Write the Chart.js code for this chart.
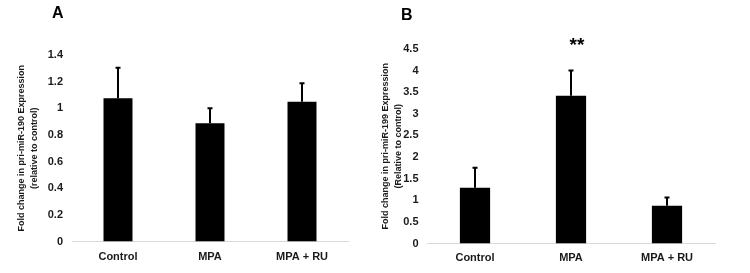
<!DOCTYPE html>
<html>
<head>
<meta charset="utf-8">
<script src="https://cdn.jsdelivr.net/npm/chart.js@4.4.1/dist/chart.umd.min.js"></script>
<style>
  html, body { margin: 0; padding: 0; background: #fff; }
  #page { position: relative; width: 750px; height: 273px; overflow: hidden; }
  .panel { position: absolute; top: 0; width: 375px; height: 273px; }
  .letter { position: absolute; font: bold 16px 'Liberation Sans', Arial, sans-serif; color: #000; line-height: 16px; }
</style>
</head>
<body>
<div id="page">
  <div class="panel" style="left:0"><canvas id="chartA"></canvas></div>
  <div class="panel" style="left:375px"><canvas id="chartB"></canvas></div>
  <div class="letter" style="left:52px; top:5px">A</div>
  <div class="letter" style="left:401px; top:7px">B</div>
</div>
<script>
// data
const categories = ['Control', 'MPA', 'MPA + RU'];

const mir190Means = [1.075, 0.887, 1.05];
const mir190Errors = [0.23, 0.113, 0.138];
const mir190TickMax = 1.4;
const mir190TickStep = 0.2;
const mir190Title = ['Fold change in pri-miR-190 Expression', '(relative to control)'];

const mir199Means = [1.29, 3.42, 0.872];
const mir199Errors = [0.464, 0.585, 0.195];
const mir199TickMax = 4.5;
const mir199TickStep = 0.5;
const mir199Title = ['Fold change in pri-miR-199 Expression', '(Relative to control)'];
const mir199Marks = ['', '**', ''];

const FONT = "'Liberation Sans', Arial, sans-serif";

// upward error bars + significance stars
const errorBarPlugin = {
    id: 'errorBars',
    afterDatasetsDraw(chart, args, opts) {
        const ctx = chart.ctx;
        const meta = chart.getDatasetMeta(0);
        const yScale = chart.scales.y;
        const means = chart.data.datasets[0].data;
        ctx.save();
        ctx.strokeStyle = '#000';
        ctx.lineWidth = 2;
        meta.data.forEach((bar, i) => {
            const yTop = yScale.getPixelForValue(means[i] + opts.errors[i]);
            ctx.beginPath();
            ctx.moveTo(bar.x, bar.y);
            ctx.lineTo(bar.x, yTop);
            ctx.moveTo(bar.x - 2.5, yTop);
            ctx.lineTo(bar.x + 2.5, yTop);
            ctx.stroke();
            if (opts.marks && opts.marks[i]) {
                ctx.fillStyle = '#000';
                ctx.font = 'bold 19px ' + FONT;
                ctx.textAlign = 'center';
                ctx.textBaseline = 'middle';
                ctx.fillText(opts.marks[i], bar.x + 6, yTop - 25);
            }
        });
        ctx.restore();
    }
};

function makeChart(id, values, errors, marks, tickMax, tickStep, title, box) {
    const ctx = document.getElementById(id).getContext('2d');
    return new Chart(ctx, {
        type: 'bar',
        data: {
            labels: categories,
            datasets: [{
                data: values,
                backgroundColor: '#000',
                borderWidth: 0,
                barPercentage: 0.315,
                categoryPercentage: 1
            }]
        },
        plugins: [errorBarPlugin],
        options: {
            responsive: true,
            maintainAspectRatio: false,
            animation: false,
            layout: { padding: { top: box.top, right: box.right, left: 0, bottom: 0 } },
            plugins: {
                legend: { display: false },
                tooltip: { enabled: false },
                errorBars: { errors: errors, marks: marks }
            },
            scales: {
                x: {
                    grid: { display: false, drawTicks: false },
                    border: { display: true, color: '#d9d9d9', width: 1 },
                    ticks: { color: '#1a1a1a', padding: box.xPad, font: { family: FONT, size: 11, weight: 'bold' } },
                    afterFit(scale) { scale.height = box.xHeight; }
                },
                y: {
                    min: 0,
                    max: tickMax,
                    grid: { display: false, drawTicks: false },
                    border: { display: false },
                    ticks: {
                        stepSize: tickStep,
                        color: '#1a1a1a',
                        padding: box.yPad,
                        font: { family: FONT, size: 11, weight: 'bold' },
                        callback: (v) => String(Math.round(v * 10) / 10)
                    },
                    title: {
                        display: true,
                        text: title,
                        color: '#1a1a1a',
                        font: { family: FONT, size: 9, weight: 'bold', lineHeight: 1.45 },
                        padding: { top: box.titleTop, bottom: 0 }
                    },
                    afterFit(scale) { scale.width = box.yWidth; }
                }
            }
        }
    });
}

makeChart('chartA', mir190Means, mir190Errors, null, mir190TickMax, mir190TickStep, mir190Title,
    { top: 55, right: 27, xHeight: 31.5, xPad: 9, yPad: 9, yWidth: 72, titleTop: 15 });
makeChart('chartB', mir199Means, mir199Errors, mir199Marks, mir199TickMax, mir199TickStep, mir199Title,
    { top: 49, right: 35, xHeight: 29.5, xPad: 8, yPad: 8.5, yWidth: 52, titleTop: 4 });
</script>
</body>
</html>
